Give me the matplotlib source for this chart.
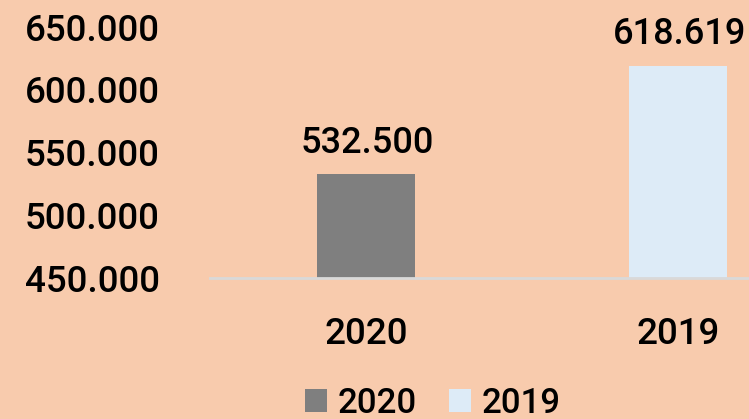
import matplotlib.pyplot as plt
from matplotlib.patches import Patch

# ── Data ──────────────────────────────────────────────
categories = ["2020", "2019"]
values = [532500, 618619]
value_labels = ["532.500", "618.619"]
yticks = [450000, 500000, 550000, 600000, 650000]
ytick_labels = ["450.000", "500.000", "550.000", "600.000", "650.000"]

# ── Colours ───────────────────────────────────────────
BG = "#F8CBAD"
BAR_COLORS = ["#7F7F7F", "#DDEBF7"]
LINE = "#D9D9D9"

plt.rcParams["font.family"] = ["Roboto", "DejaVu Sans"]

W, H = 749, 419
fig = plt.figure(figsize=(W / 100, H / 100), dpi=100, facecolor=BG)

# axes intentionally runs past the right edge (cropped like the original)
left, right = 210, 834
top, bottom = 27, 278
ax = fig.add_axes([left / W, 1 - bottom / H, (right - left) / W, (bottom - top) / H])
ax.set_facecolor(BG)
ax.patch.set_alpha(0)

x = range(len(categories))
bars = ax.bar(x, [v - yticks[0] for v in values], bottom=yticks[0],
              width=0.314, color=BAR_COLORS, zorder=2)

for b, lab in zip(bars, value_labels):
    ax.annotate(lab, (b.get_x() + b.get_width() / 2, b.get_y() + b.get_height()),
                xytext=(1, 10), textcoords="offset points",
                ha="center", va="bottom", fontsize=26, fontweight="medium",
                color="black", annotation_clip=False)

ax.set_xlim(-0.5, 1.5)
ax.set_ylim(yticks[0], yticks[-1])
ax.set_yticks(yticks)
ax.set_yticklabels(ytick_labels, fontsize=26.5, fontweight="medium")
ax.set_xticks(list(x))
ax.set_xticklabels(categories, fontsize=26.5, fontweight="medium")
ax.tick_params(axis="y", length=0, pad=36)
ax.tick_params(axis="x", length=0, pad=28)

for s in ["top", "right", "left"]:
    ax.spines[s].set_visible(False)
ax.spines["bottom"].set_color(LINE)
ax.spines["bottom"].set_linewidth(2)
ax.spines["bottom"].set_zorder(3)

handles = [Patch(facecolor=c, edgecolor="none") for c in BAR_COLORS]
fig.legend(handles, categories, loc="center", bbox_to_anchor=(433 / W, 1 - 403 / H),
           ncol=2, frameon=False, handlelength=0.63, handleheight=0.63,
           handletextpad=0.31, columnspacing=0.94, borderpad=0, borderaxespad=0,
           prop={"weight": "medium", "size": 25})

fig.savefig("out.png", dpi=100, facecolor=BG)
